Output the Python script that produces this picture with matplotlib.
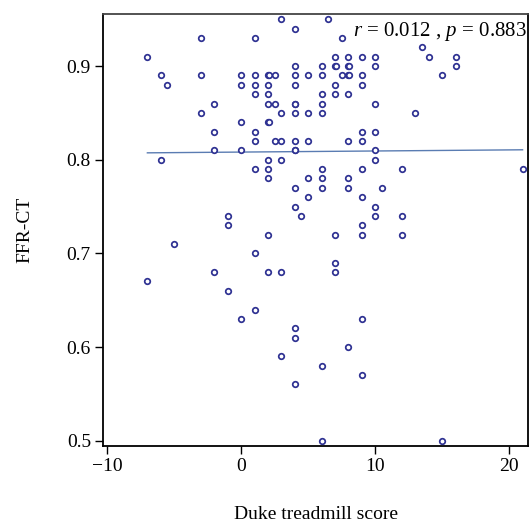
import matplotlib
matplotlib.use("Agg")
import matplotlib.pyplot as plt
import numpy as np

plt.rcParams['font.family'] = ['Liberation Serif', 'DejaVu Serif']
plt.rcParams['mathtext.fontset'] = 'custom'
plt.rcParams['mathtext.it'] = 'Liberation Serif:italic'
plt.rcParams['mathtext.rm'] = 'Liberation Serif'

# Duke treadmill score -> FFR-CT values, grouped by score
# (thicker-looking rings are taken as two near-overlapping points)
scores = [-7, -6, -5.5, -5, -3, -2, -1, 0, 1, 2, 2.05, 2.5, 3, 4, 4.05, 4.5, 5, 6,
          6.5, 7, 7.05, 7.5, 8, 8.05, 9, 10, 10.5, 12, 13, 13.5, 14, 15, 16, 21]
ffr_by_score = [
    [0.91, 0.67],
    [0.89, 0.80],
    [0.88],
    [0.71],
    [0.93, 0.89, 0.85],
    [0.86, 0.83, 0.81, 0.68],
    [0.74, 0.73, 0.66],
    [0.89, 0.88, 0.84, 0.81, 0.63],
    [0.93, 0.89, 0.88, 0.87, 0.83, 0.82, 0.79, 0.70, 0.64],
    [0.89, 0.88, 0.87, 0.86, 0.84, 0.80, 0.79, 0.78, 0.72, 0.68],
    [0.89, 0.84],
    [0.89, 0.86, 0.82],
    [0.95, 0.85, 0.82, 0.80, 0.68, 0.59],
    [0.94, 0.90, 0.89, 0.88, 0.86, 0.85, 0.82, 0.81, 0.77, 0.75, 0.62, 0.61, 0.56],
    [0.86, 0.81],
    [0.74],
    [0.89, 0.85, 0.82, 0.78, 0.76],
    [0.90, 0.89, 0.87, 0.86, 0.85, 0.79, 0.78, 0.77, 0.58, 0.50],
    [0.95],
    [0.91, 0.90, 0.88, 0.87, 0.72, 0.69, 0.68],
    [0.90],
    [0.93, 0.89],
    [0.91, 0.90, 0.89, 0.87, 0.82, 0.78, 0.77, 0.60],
    [0.90, 0.89],
    [0.91, 0.89, 0.88, 0.83, 0.82, 0.79, 0.76, 0.73, 0.72, 0.63, 0.57],
    [0.91, 0.90, 0.86, 0.83, 0.81, 0.80, 0.75, 0.74],
    [0.77],
    [0.79, 0.74, 0.72],
    [0.85],
    [0.92],
    [0.91],
    [0.89, 0.50],
    [0.91, 0.90],
    [0.79],
]
stat_text = r"$r$ = 0.012 , $p$ = 0.883"

x = np.concatenate([[s] * len(v) for s, v in zip(scores, ffr_by_score)])
y = np.concatenate(ffr_by_score)

# linear fit over the data range
slope, intercept = np.polyfit(x, y, 1)
xfit = np.array([x.min(), x.max()])
yfit = slope * xfit + intercept

fig = plt.figure(figsize=(5.29, 5.25), dpi=100)
ax = fig.add_axes([0.195, 0.1505, 0.803, 0.823])

ax.plot(xfit, yfit, color='#5a7cb2', linewidth=1.0, zorder=2)
ax.plot(x, y, linestyle='none', marker='o', markersize=4.0,
        markerfacecolor='white', markeredgecolor='#2e3192',
        markeredgewidth=1.25, zorder=3)

ax.set_xlim(-10.3, 21.4)
ax.set_ylim(0.4943, 0.9557)
ax.set_xticks([-10, 0, 10, 20])
ax.set_yticks([0.5, 0.6, 0.7, 0.8, 0.9])
ax.set_yticklabels(["0.5", "0.6", "0.7", "0.8", "0.9"])

ax.tick_params(direction='out', length=5.8, width=1.0, labelsize=14, pad=3)
for side in ['left', 'bottom', 'right']:
    ax.spines[side].set_linewidth(1.3)
    ax.spines[side].set_color('black')
ax.spines['top'].set_linewidth(1.3)
ax.spines['top'].set_color('#444444')

ax.set_xlabel("Duke treadmill score", fontsize=14, labelpad=22)
ax.set_ylabel("FFR-CT", fontsize=14, labelpad=24)

ax.text(0.997, 0.985, stat_text, transform=ax.transAxes, ha='right', va='top',
        fontsize=15)

fig.savefig("out.png", dpi=100)
